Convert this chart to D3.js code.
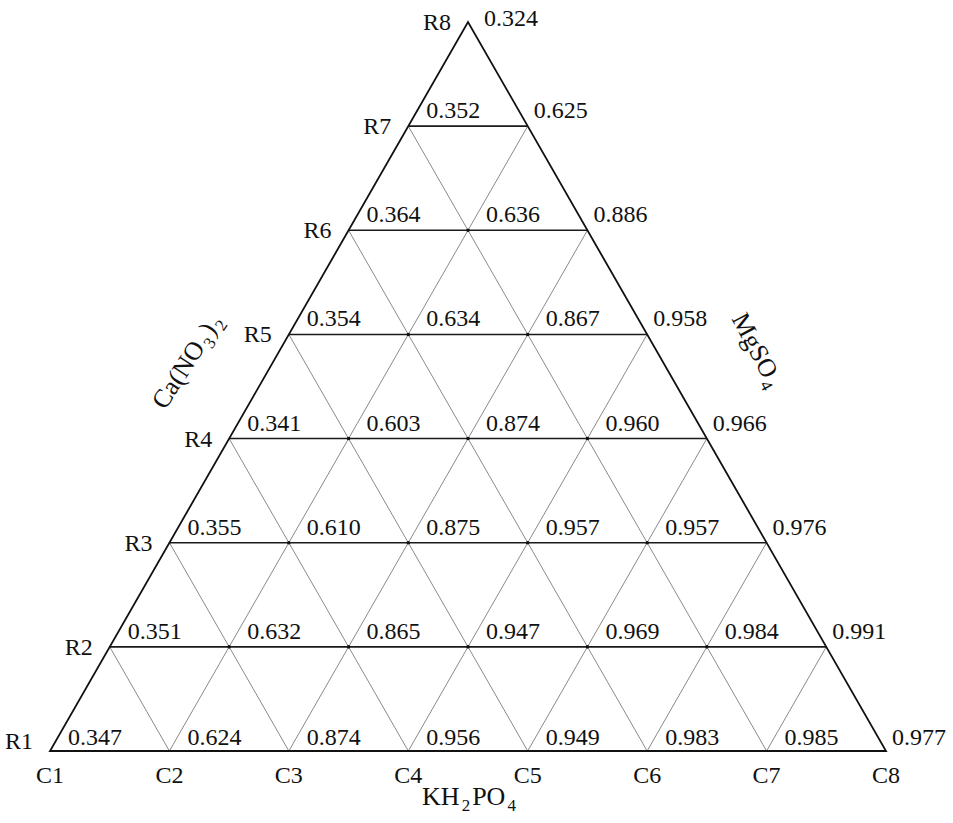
<!DOCTYPE html>
<html>
<head>
<meta charset="utf-8">
<script src="https://cdn.jsdelivr.net/npm/d3@7"></script>
<style>
  html, body { margin: 0; padding: 0; background: #fff; }
  svg text { font-family: "Liberation Serif", "DejaVu Serif", serif; fill: #111; }
</style>
</head>
<body>
<div id="chart"></div>
<script>
const rowLabels = ["R1", "R2", "R3", "R4", "R5", "R6", "R7", "R8"];
const colLabels = ["C1", "C2", "C3", "C4", "C5", "C6", "C7", "C8"];

// values along each row, left to right (row R1 at the bottom)
const rowR1 = [0.347, 0.624, 0.874, 0.956, 0.949, 0.983, 0.985, 0.977];
const rowR2 = [0.351, 0.632, 0.865, 0.947, 0.969, 0.984, 0.991];
const rowR3 = [0.355, 0.610, 0.875, 0.957, 0.957, 0.976];
const rowR4 = [0.341, 0.603, 0.874, 0.960, 0.966];
const rowR5 = [0.354, 0.634, 0.867, 0.958];
const rowR6 = [0.364, 0.636, 0.886];
const rowR7 = [0.352, 0.625];
const rowR8 = [0.324];
const rows = [rowR1, rowR2, rowR3, rowR4, rowR5, rowR6, rowR7, rowR8];

// axis names as [text, isSubscript] pieces
const axisBottom = [["KH", false], ["2", true], ["PO", false], ["4", true]];
const axisLeft = [["Ca(NO", false], ["3", true], [")", false], ["2", true]];
const axisRight = [["MgSO", false], ["4", true]];

const width = 953;
const height = 823;
const n = colLabels.length - 1;

const x = d3.scaleLinear().domain([0, n]).range([50, 886]);
const y = d3.scaleLinear().domain([0, n]).range([751, 22]);

// grid point i = row, j = position along row
const px = (i, j) => x(j + i / 2);
const py = (i) => y(i);

const svg = d3.select("#chart").append("svg")
  .attr("width", width)
  .attr("height", height);

const grid = svg.append("g");

// lines parallel to the left edge
for (let j = 1; j < n; j++) {
  grid.append("line")
    .attr("x1", px(0, j)).attr("y1", py(0))
    .attr("x2", px(n - j, j)).attr("y2", py(n - j))
    .attr("stroke", "#8a8a8a").attr("stroke-width", 1);
}
// lines parallel to the right edge
for (let k = 1; k < n; k++) {
  grid.append("line")
    .attr("x1", px(0, k)).attr("y1", py(0))
    .attr("x2", px(k, 0)).attr("y2", py(k))
    .attr("stroke", "#8a8a8a").attr("stroke-width", 1);
}
// horizontal lines
for (let i = 1; i < n; i++) {
  grid.append("line")
    .attr("x1", px(i, 0)).attr("y1", py(i))
    .attr("x2", px(i, n - i)).attr("y2", py(i))
    .attr("stroke", "#1a1a1a").attr("stroke-width", 1.6);
}
// outer triangle
grid.append("path")
  .attr("d", d3.line()([[px(0, 0), py(0)], [px(0, n), py(0)], [px(n, 0), py(n)]]) + "Z")
  .attr("fill", "none")
  .attr("stroke", "#111")
  .attr("stroke-width", 1.8);

// points and values
const points = rows.flatMap((vals, i) => vals.map((v, j) => ({ i, j, v, last: j === vals.length - 1 })));

svg.append("g").selectAll("circle")
  .data(points.filter(d => d.j > 0 && !d.last && d.i > 0))
  .join("circle")
  .attr("cx", d => px(d.i, d.j))
  .attr("cy", d => py(d.i))
  .attr("r", 1.8)
  .attr("fill", "#111");

svg.append("g").selectAll("text")
  .data(points)
  .join("text")
  .attr("x", d => {
    if (d.i === n) return px(d.i, d.j) + 16;
    return px(d.i, d.j) + (d.last ? 6 : 18);
  })
  .attr("y", d => {
    if (d.i === n) return py(d.i) + 4;
    return py(d.i) - (d.i === 0 ? 6 : 8);
  })
  .attr("font-size", 24)
  .text(d => d.v.toFixed(3));

// row labels on the left edge
svg.append("g").selectAll("text")
  .data(rowLabels)
  .join("text")
  .attr("x", (d, i) => px(i, 0) - 17)
  .attr("y", (d, i) => py(i) + (i === 0 ? -2 : 8))
  .attr("text-anchor", "end")
  .attr("font-size", 24)
  .text(d => d);

// column labels under the base
svg.append("g").selectAll("text")
  .data(colLabels)
  .join("text")
  .attr("x", (d, j) => px(0, j))
  .attr("y", 783)
  .attr("text-anchor", "middle")
  .attr("font-size", 24)
  .text(d => d);

function chemLabel(transform, pieces) {
  const t = svg.append("text")
    .attr("transform", transform)
    .attr("text-anchor", "middle")
    .attr("font-size", 26);
  let down = false;
  pieces.forEach(([s, sub]) => {
    const span = t.append("tspan").text(s);
    if (sub && !down) { span.attr("dy", 6).attr("font-size", 17).attr("dx", 2); down = true; }
    else if (!sub && down) { span.attr("dy", -6).attr("dx", 2); down = false; }
    else if (sub) span.attr("font-size", 17);
  });
  return t;
}

chemLabel("translate(469,805)", axisBottom);
chemLabel("translate(194,366) rotate(-57)", axisLeft);
chemLabel("translate(750,354) rotate(62)", axisRight);
</script>
</body>
</html>
